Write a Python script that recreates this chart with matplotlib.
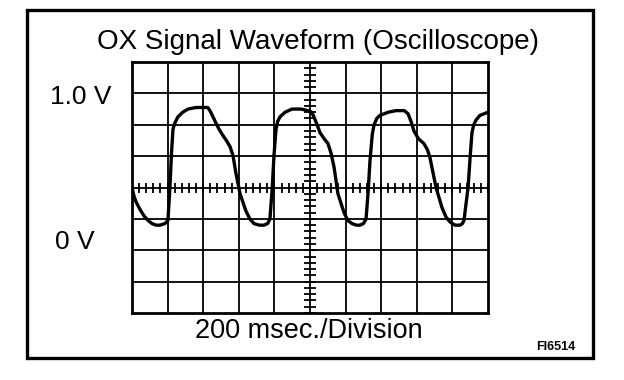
import matplotlib
matplotlib.use("Agg")
import matplotlib.pyplot as plt
from matplotlib.patches import Rectangle
import numpy as np

plt.rcParams['font.family'] = ['Liberation Sans', 'DejaVu Sans']

# trace: time in msec, voltage in V
time_ms = [0, 10, 22, 45, 67, 90, 112, 135, 157, 185, 202, 213, 222, 230,
           240, 258, 285, 315, 360, 404, 425, 438, 455, 472, 490, 506, 530,
           551, 568, 584, 607, 640, 662, 685, 715, 742, 762, 775, 788, 798,
           809, 818, 831, 860, 899, 950, 989, 1010, 1022, 1040, 1056, 1080,
           1101, 1118, 1135, 1157, 1191, 1212, 1236, 1260, 1281, 1300, 1315,
           1327, 1337, 1350, 1360, 1375, 1393, 1440, 1483, 1530, 1551, 1568,
           1584, 1610, 1640, 1660, 1674, 1708, 1742, 1765, 1787, 1815, 1843,
           1856, 1865, 1877, 1888, 1900, 1910, 1920, 1933, 1955, 1978, 2000]
volts = [0.40, 0.35, 0.31, 0.26, 0.22, 0.19, 0.17, 0.16, 0.16, 0.17, 0.19,
         0.40, 0.62, 0.77, 0.81, 0.85, 0.88, 0.90, 0.91, 0.91, 0.91, 0.89,
         0.85, 0.81, 0.77, 0.74, 0.70, 0.66, 0.60, 0.49, 0.36, 0.25, 0.20,
         0.17, 0.16, 0.16, 0.17, 0.20, 0.40, 0.61, 0.77, 0.82, 0.85, 0.88,
         0.90, 0.90, 0.89, 0.88, 0.85, 0.80, 0.75, 0.71, 0.68, 0.62, 0.53,
         0.36, 0.24, 0.19, 0.17, 0.16, 0.16, 0.17, 0.20, 0.38, 0.57, 0.74,
         0.80, 0.84, 0.86, 0.88, 0.89, 0.89, 0.87, 0.82, 0.76, 0.71, 0.68,
         0.64, 0.59, 0.40, 0.27, 0.21, 0.18, 0.16, 0.16, 0.17, 0.19, 0.30,
         0.40, 0.60, 0.75, 0.80, 0.83, 0.86, 0.87, 0.88]

ms_per_div = 200
v_per_div = 0.2
x_divs, y_divs = 10, 8
v_bottom = -0.4

fig = plt.figure(figsize=(6.24, 3.8), dpi=100)
ax = fig.add_axes([132/624, 1 - 313/380, 356/624, 251/380])

x_max = x_divs * ms_per_div
v_top = v_bottom + y_divs * v_per_div
ax.set_xlim(0, x_max)
ax.set_ylim(v_bottom, v_top)

# grid
for i in range(1, x_divs):
    ax.axvline(i * ms_per_div, color='black', lw=1.3)
for j in range(1, y_divs):
    ax.axhline(v_bottom + j * v_per_div, color='black', lw=1.3)

# centre crosshair with small tick marks
xc = x_max / 2
yc = v_bottom + y_divs / 2 * v_per_div
xt = np.arange(0, x_max + 1, ms_per_div / 5)
yt = np.arange(v_bottom, v_top + 1e-9, v_per_div / 5)
ax.plot(xt, np.full_like(xt, yc), ls='none', marker='|', ms=7, mew=1.3, color='black')
ax.plot(np.full_like(yt, xc), yt, ls='none', marker='_', ms=9, mew=1.3, color='black')

ax.plot(time_ms, volts, color='black', lw=2.4, solid_joinstyle='round')

ax.set_xticks([])
ax.set_yticks([])
for s in ax.spines.values():
    s.set_linewidth(2)

# outer frame
fig.patches.append(Rectangle((27/624, 1 - 358/380), 566/624, 348/380,
                             transform=fig.transFigure, fill=False,
                             lw=2.4, ec='black'))

fig.text(318/624, 1 - 42/380, "OX Signal Waveform (Oscilloscope)",
         ha='center', va='center', fontsize=20)
fig.text(81/624, 1 - 97/380, "1.0 V", ha='center', va='center', fontsize=19)
fig.text(75/624, 1 - 242/380, "0 V", ha='center', va='center', fontsize=19)
fig.text(309/624, 1 - 331/380, "200 msec./Division",
         ha='center', va='center', fontsize=19.5)
fig.text(556/624, 1 - 347/380, "FI6514", ha='center', va='center',
         fontsize=9, fontweight='bold')

fig.savefig("out.png", dpi=100)
